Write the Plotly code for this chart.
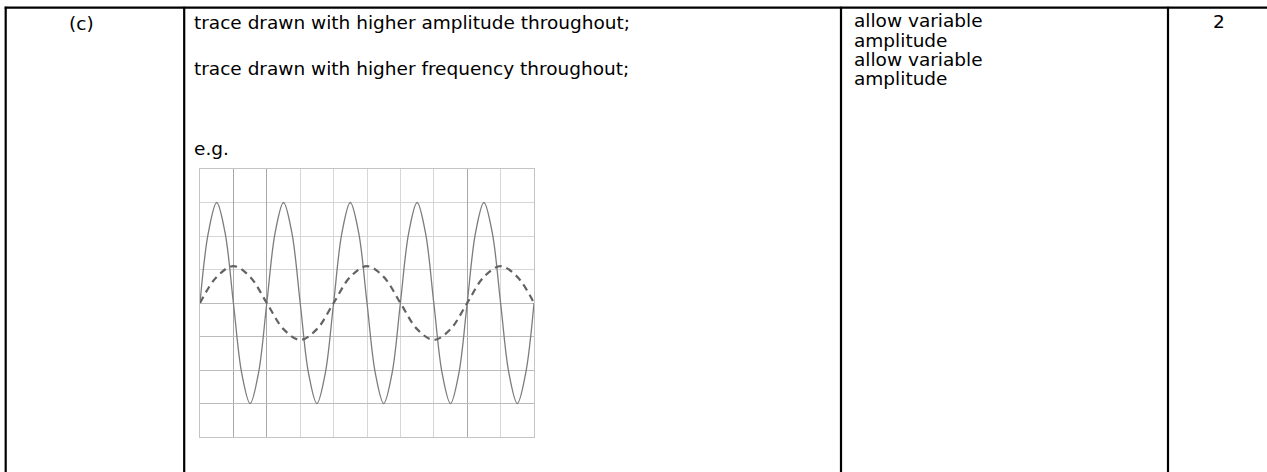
import plotly.graph_objects as go

W, H = 1267, 472

# ---- data (divisions of the oscilloscope grid) ----
solid_t = [0, 0.25, 0.5, 0.75, 1, 1.25, 1.5, 1.75, 2, 2.25, 2.5, 2.75, 3, 3.25, 3.5, 3.75,
           4, 4.25, 4.5, 4.75, 5, 5.25, 5.5, 5.75, 6, 6.25, 6.5, 6.75, 7, 7.25, 7.5, 7.75,
           8, 8.25, 8.5, 8.75, 9, 9.25, 9.5, 9.75, 10]
solid_v = [0, 2.1, 3, 2.1, 0, -2.1, -3, -2.1,
           0, 2.1, 3, 2.1, 0, -2.1, -3, -2.1,
           0, 2.1, 3, 2.1, 0, -2.1, -3, -2.1,
           0, 2.1, 3, 2.1, 0, -2.1, -3, -2.1,
           0, 2.1, 3, 2.1, 0, -2.1, -3, -2.1,
           0]
dashed_t = [0, 0.5, 1, 1.5, 2, 2.5, 3, 3.5, 4, 4.5, 5, 5.5, 6, 6.5, 7, 7.5, 8, 8.5, 9, 9.5, 10]
dashed_v = [0, 0.78, 1.1, 0.78, 0, -0.78, -1.1, -0.78,
            0, 0.78, 1.1, 0.78, 0, -0.78, -1.1, -0.78,
            0, 0.78, 1.1, 0.78, 0]
x_grid = [0, 1, 2, 3, 4, 5, 6, 7, 8, 9, 10]
y_grid = [-4, -3, -2, -1, 0, 1, 2, 3, 4]
x_dark = [1, 2, 8]
y_dark = [-3, -2, -1, 0]

col2_lines = ["trace drawn with higher amplitude throughout;",
              "trace drawn with higher frequency throughout;",
              "e.g."]
col3_lines = ["allow variable", "amplitude", "allow variable", "amplitude"]
part_label = "(c)"
marks_label = "2"


def px(x):
    return x / W


def py(y):
    return 1 - y / H


fig = go.Figure()

fig.add_trace(go.Scatter(x=solid_t, y=solid_v, mode="lines",
                         line=dict(color="#7c7c7c", width=1.3, shape="spline"),
                         showlegend=False, hoverinfo="skip"))
fig.add_trace(go.Scatter(x=dashed_t, y=dashed_v, mode="lines",
                         line=dict(color="#626262", width=2.2, dash="7px,5px", shape="spline"),
                         showlegend=False, hoverinfo="skip"))

dom_x = [px(200), px(534)]
dom_y = [py(437), py(169)]

FS = 18.5

fig.update_layout(
    width=W, height=H,
    margin=dict(l=0, r=0, t=0, b=0),
    paper_bgcolor="white", plot_bgcolor="white",
    hovermode=False,
    xaxis=dict(domain=dom_x, range=[0, 10], tickvals=x_grid, showticklabels=False,
               showgrid=True, gridcolor="#d6d6d6", gridwidth=1, zeroline=False,
               showline=True, linecolor="#c4c4c4", linewidth=1, mirror=True,
               ticks="", fixedrange=True),
    yaxis=dict(domain=dom_y, range=[-4, 4], tickvals=y_grid, showticklabels=False,
               showgrid=True, gridcolor="#d6d6d6", gridwidth=1, zeroline=False,
               showline=True, linecolor="#c4c4c4", linewidth=1, mirror=True,
               ticks="", fixedrange=True),
    xaxis2=dict(overlaying="x", range=[0, 10], tickvals=x_dark, showticklabels=False,
                showgrid=True, gridcolor="#a8a8a8", gridwidth=1, zeroline=False,
                ticks="", matches="x"),
    yaxis2=dict(overlaying="y", range=[-4, 4], tickvals=y_dark, showticklabels=False,
                showgrid=True, gridcolor="#bcbcbc", gridwidth=1, zeroline=False,
                ticks="", matches="y"),
    font=dict(family="DejaVu Sans", size=FS, color="black"),
)
# invisible trace to activate the overlay grid axes
fig.add_trace(go.Scatter(x=[None], y=[None], xaxis="x2", yaxis="y2",
                         showlegend=False, hoverinfo="skip"))

shapes = []
# table borders
shapes.append(dict(type="line", xref="paper", yref="paper",
                   x0=px(4.7), x1=1.0, y0=py(7.7), y1=py(7.7),
                   line=dict(color="black", width=2.2)))
for cx in [5.7, 184.2, 841, 1168]:
    shapes.append(dict(type="line", xref="paper", yref="paper",
                       x0=px(cx), x1=px(cx), y0=py(6.7), y1=0,
                       line=dict(color="black", width=2.2)))
fig.update_layout(shapes=shapes)

ann = []
ann.append(dict(text=part_label, x=px(82), y=py(24), xref="paper", yref="paper",
                xanchor="center", yanchor="middle", showarrow=False))
for t, yy in zip(col2_lines, [23, 69, 148]):
    ann.append(dict(text=t, x=px(192), y=py(yy), xref="paper", yref="paper",
                    xanchor="left", yanchor="middle", showarrow=False))
for t, yy in zip(col3_lines, [21, 40, 59, 78]):
    ann.append(dict(text=t, x=px(852), y=py(yy), xref="paper", yref="paper",
                    xanchor="left", yanchor="middle", showarrow=False))
ann.append(dict(text=marks_label, x=px(1219), y=py(22), xref="paper", yref="paper",
                xanchor="center", yanchor="middle", showarrow=False))
fig.update_layout(annotations=ann)

fig.write_html("out.html",
               config={"displayModeBar": False, "staticPlot": True},
               post_script="document.body.style.margin='0px';"
                           "document.body.style.overflow='hidden';")
